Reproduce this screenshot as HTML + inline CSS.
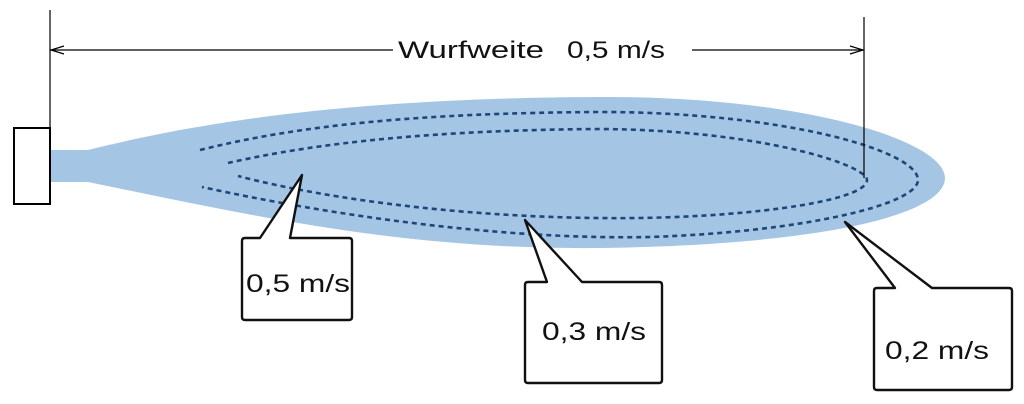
<!DOCTYPE html>
<html><head><meta charset="utf-8"><style>html,body{margin:0;padding:0;background:#fff}svg{display:block}</style></head><body>
<svg width="1024" height="404" viewBox="0 0 1024 404" xmlns="http://www.w3.org/2000/svg" font-family="Liberation Sans, sans-serif">
<path d="M50,150 L88,150 C200,122 350,98 600,97 C800,96 945,140 945,178 C945,215 820,245 600,248 C400,250 250,215 88,182 L50,182 Z" fill="#a4c6e4"/>
<g fill="none" stroke="#1f4678" stroke-width="2.6" stroke-dasharray="5,4">
<path d="M200,150 C300,125 420,113 600,112 C780,112 918,150 918,180 C918,205 800,232 650,237 C500,240 330,215 202,187"/>
<path d="M228,163 C320,142 440,130 600,129 C760,130 867,165 867,180 C867,200 760,216 640,218 C480,220 330,200 238,176"/>
</g>
<rect x="14" y="128" width="36" height="76" fill="#fff" stroke="#000" stroke-width="2"/>
<g stroke="#000" stroke-width="1.2" fill="none">
<line x1="50" y1="10" x2="50" y2="128"/>
<line x1="864" y1="17" x2="864" y2="178"/>
<line x1="50" y1="50" x2="393" y2="50"/>
<line x1="692" y1="50" x2="864" y2="50"/>
<path d="M64,46 L51,50 L64,54"/>
<path d="M850,46 L863,50 L850,54"/>
</g>
<text x="398" y="58" font-size="24" fill="#111" textLength="146" lengthAdjust="spacingAndGlyphs">Wurfweite</text>
<text x="567" y="58" font-size="24" fill="#111" textLength="98" lengthAdjust="spacingAndGlyphs">0,5 m/s</text>
<g fill="#fff" stroke="#111" stroke-width="2.4" stroke-linejoin="round">
<path d="M245,238 L260,238 L302,175 L290,238 L349,238 Q352,238 352,241 L352,317 Q352,320 349,320 L245,320 Q242,320 242,317 L242,241 Q242,238 245,238 Z"/>
<path d="M528,282 L547,282 L525,220 L582,282 L659,282 Q662,282 662,285 L662,380 Q662,383 659,383 L528,383 Q525,383 525,380 L525,285 Q525,282 528,282 Z"/>
<path d="M877,288 L895,288 L845,222 L932,288 L1009,288 Q1012,288 1012,291 L1012,387 Q1012,390 1009,390 L877,390 Q874,390 874,387 L874,291 Q874,288 877,288 Z"/>
</g>
<g font-size="25" fill="#111" lengthAdjust="spacingAndGlyphs">
<text x="246" y="292" textLength="104" lengthAdjust="spacingAndGlyphs">0,5 m/s</text>
<text x="542" y="340" textLength="104" lengthAdjust="spacingAndGlyphs">0,3 m/s</text>
<text x="885" y="359" textLength="104" lengthAdjust="spacingAndGlyphs">0,2 m/s</text>
</g>
</svg>
</body></html>
